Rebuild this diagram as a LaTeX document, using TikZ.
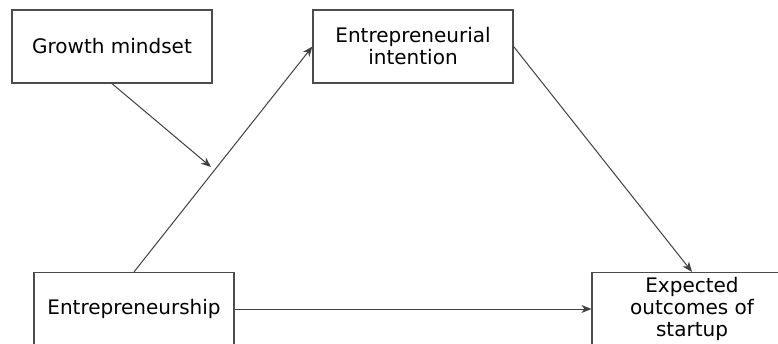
\documentclass[tikz,border=0pt]{standalone}
\usepackage{fontspec}
\setmainfont{DejaVu Sans}
\usetikzlibrary{arrows.meta,calc}
\begin{document}
\begin{tikzpicture}[x=1pt,y=-1pt,
  box/.style={draw=black!70, line width=1.2pt, fill=white, minimum width=200pt, minimum height=73pt, align=center, inner sep=0pt, font=\fontsize{20}{22}\selectfont},
  conn/.style={draw=black!75, line width=1pt, -{Stealth[length=10pt,width=8pt,inset=3pt]}}]
\useasboundingbox (0,0) rectangle (778,343);
\node[box] (gm) at (112,46.5) {Growth mindset};
\node[box] (ei) at (413,46.5) {Entrepreneurial\\intention};
\node[box] (en) at (134,309) {Entrepreneurship};
\node[box] (eo) at (692,309) {Expected\\outcomes of\\startup};
\coordinate (m) at (211,167);
\draw[conn] (en.north) -- (ei.west);
\draw[conn] (gm.south) -- (m);
\draw[conn] (ei.east) -- (eo.north);
\draw[conn] (en.east) -- (eo.west);
\end{tikzpicture}
\end{document}
